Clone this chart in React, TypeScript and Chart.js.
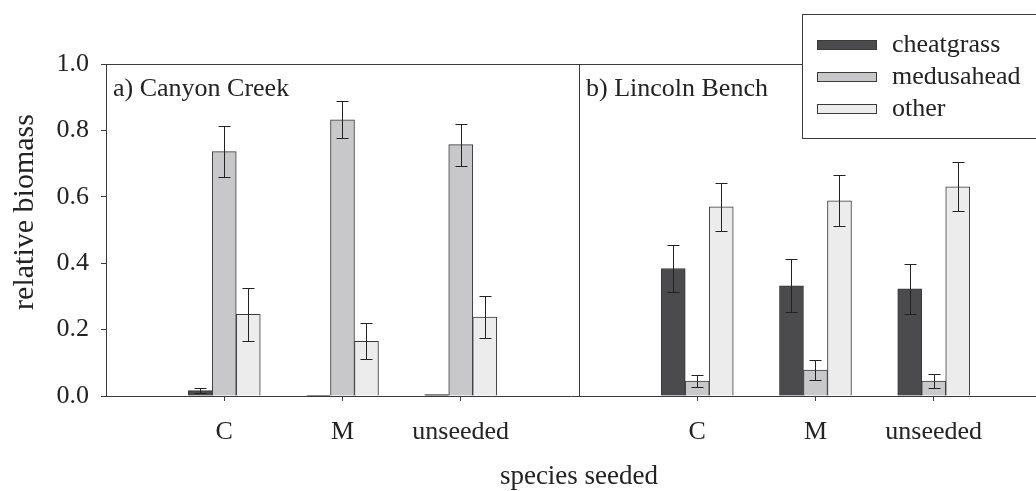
import React, { useEffect, useRef } from 'react';
import { Chart, registerables } from 'chart.js';

Chart.register(...registerables);

// ---- data ----
const categories = ['C', 'M', 'unseeded'];
const panels = ['a) Canyon Creek', 'b) Lincoln Bench'];
const seriesNames = ['cheatgrass', 'medusahead', 'other'];
// order: Canyon Creek C, M, unseeded, Lincoln Bench C, M, unseeded
const cheatgrass = [0.016, 0.002, 0.004, 0.384, 0.332, 0.323];
const medusahead = [0.736, 0.832, 0.757, 0.045, 0.078, 0.045];
const other = [0.246, 0.165, 0.238, 0.570, 0.588, 0.630];
const cheatgrassErr = [0.007, 0, 0, 0.072, 0.080, 0.075];
const medusaheadErr = [0.077, 0.056, 0.063, 0.019, 0.031, 0.020];
const otherErr = [0.080, 0.055, 0.063, 0.072, 0.077, 0.074];
const yTickValues = [0, 0.2, 0.4, 0.6, 0.8, 1.0];
const xTitle = 'species seeded';
const yTitle = 'relative biomass';

// ---- styles ----
const FONT = '"Liberation Serif", "Times New Roman", serif';
const fills = ['#4b4b4d', '#c8c8ca', '#ececec'];
const edge = '#3a3a3a';
const ink = '#222222';
const X_MAX = 7.865;

const posOf = (i: number) => Math.floor(i / categories.length) * (categories.length + 1) + (i % categories.length) + 1;

const seriesValues = [cheatgrass, medusahead, other];
const seriesErrors = [cheatgrassErr, medusaheadErr, otherErr];

const errorBarPlugin = {
  id: 'errorBars',
  afterDatasetsDraw(chart: any) {
    const ctx = chart.ctx;
    const y = chart.scales.y;
    ctx.save();
    ctx.strokeStyle = ink;
    ctx.lineWidth = 1;
    chart.data.datasets.forEach((ds: any, d: number) => {
      const meta = chart.getDatasetMeta(d);
      const errs = seriesErrors[d];
      meta.data.forEach((bar: any, i: number) => {
        const e = errs[i];
        if (!e) return;
        const v = seriesValues[d][i];
        const x = Math.round(bar.x) + 0.5;
        const yt = Math.round(y.getPixelForValue(v + e)) + 0.5;
        const yb = Math.round(y.getPixelForValue(v - e)) + 0.5;
        ctx.beginPath();
        ctx.moveTo(x, yt);
        ctx.lineTo(x, yb);
        ctx.moveTo(x - 6, yt);
        ctx.lineTo(x + 6, yt);
        ctx.moveTo(x - 6, yb);
        ctx.lineTo(x + 6, yb);
        ctx.stroke();
      });
    });
    ctx.restore();
  },
};

const annotationPlugin = {
  id: 'annotations',
  afterDraw(chart: any) {
    const ctx = chart.ctx;
    const { left, right, top, bottom } = chart.chartArea;
    const xs = chart.scales.x;
    ctx.save();
    ctx.strokeStyle = edge;
    ctx.lineWidth = 1;
    // top border
    ctx.beginPath();
    ctx.moveTo(left, Math.round(top) + 0.5);
    ctx.lineTo(right, Math.round(top) + 0.5);
    ctx.stroke();
    // panel divider
    const divX = Math.round(xs.getPixelForValue(categories.length + 1)) + 0.5;
    ctx.beginPath();
    ctx.moveTo(divX, top);
    ctx.lineTo(divX, bottom);
    ctx.stroke();

    // panel labels
    ctx.fillStyle = ink;
    ctx.font = `26px ${FONT}`;
    ctx.textBaseline = 'alphabetic';
    ctx.textAlign = 'left';
    panels.forEach((p, k) => {
      const px = xs.getPixelForValue(k * (categories.length + 1));
      ctx.fillText(p, px + 7, 96);
    });

    // x title
    ctx.textAlign = 'center';
    ctx.font = `27px ${FONT}`;
    ctx.fillText(xTitle, xs.getPixelForValue(categories.length + 1), 484);

    // y title
    ctx.save();
    ctx.translate(33, 212);
    ctx.rotate(-Math.PI / 2);
    ctx.font = `30px ${FONT}`;
    ctx.fillText(yTitle, 0, 0);
    ctx.restore();

    // legend
    const bx = 802.5, by = 14.5, bw = 260, bh = 124;
    ctx.fillStyle = '#ffffff';
    ctx.fillRect(bx, by, bw, bh);
    ctx.strokeStyle = edge;
    ctx.strokeRect(bx, by, bw, bh);
    ctx.textAlign = 'left';
    ctx.font = `26px ${FONT}`;
    seriesNames.forEach((name, k) => {
      const cy = 45 + k * 32;
      ctx.fillStyle = fills[k];
      ctx.fillRect(817.5, cy - 4.5, 59, 9);
      ctx.strokeStyle = edge;
      ctx.strokeRect(817.5, cy - 4.5, 59, 9);
      ctx.fillStyle = ink;
      ctx.fillText(name, 892, cy + 7);
    });
    ctx.restore();
  },
};

export default function App() {
  const ref = useRef<HTMLCanvasElement | null>(null);
  useEffect(() => {
    document.body.style.margin = '0';
    document.body.style.overflow = 'hidden';
    const canvas = ref.current;
    if (!canvas) return;
    const datasets = seriesNames.map((name, d) => ({
      label: name,
      data: seriesValues[d].map((v, i) => ({ x: posOf(i), y: v })),
      backgroundColor: fills[d],
      borderColor: edge,
      borderWidth: 1,
      barThickness: 24,
    }));
    const chart = new Chart(canvas, {
      type: 'bar',
      data: { datasets },
      plugins: [errorBarPlugin, annotationPlugin],
      options: {
        animation: false,
        responsive: false,
        devicePixelRatio: 1,
        layout: { padding: { left: 0, right: 0, top: 64, bottom: 0 } },
        plugins: {
          legend: { display: false },
          tooltip: { enabled: false },
        },
        scales: {
          x: {
            type: 'linear',
            min: 0,
            max: X_MAX,
            offset: false,
            afterFit: (s: any) => { s.height = 95; },
            afterBuildTicks: (s: any) => {
              s.ticks = seriesValues[0].map((_, i) => ({ value: posOf(i) }));
            },
            grid: {
              offset: false,
              drawOnChartArea: false,
              drawTicks: true,
              tickLength: 5,
              color: edge,
            },
            border: { display: true, color: edge, width: 1 },
            ticks: {
              autoSkip: false,
              maxRotation: 0,
              padding: 16,
              color: ink,
              font: { family: FONT, size: 26 },
              callback: (v: any) => categories[(Number(v) - 1) % (categories.length + 1)] ?? '',
            },
          },
          y: {
            type: 'linear',
            min: 0,
            max: 1,
            afterFit: (s: any) => { s.width = 106; },
            afterBuildTicks: (s: any) => {
              s.ticks = yTickValues.map((v) => ({ value: v }));
            },
            grid: {
              drawOnChartArea: false,
              drawTicks: true,
              tickLength: 5,
              color: edge,
            },
            border: { display: true, color: edge, width: 1 },
            ticks: {
              padding: 12,
              color: ink,
              font: { family: FONT, size: 26 },
              callback: (v: any) => Number(v).toFixed(1),
            },
          },
        },
      },
    });
    return () => chart.destroy();
  }, []);
  return <canvas ref={ref} width={1036} height={491} style={{ display: 'block', width: 1036, height: 491 }} />;
}
